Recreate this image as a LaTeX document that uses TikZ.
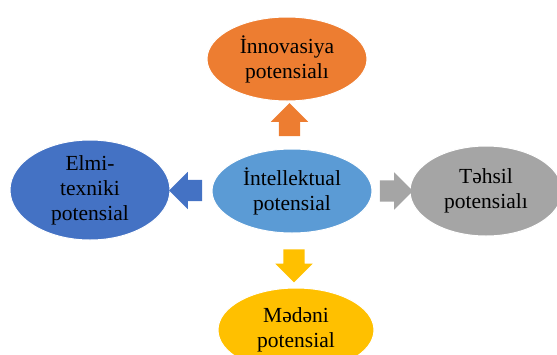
\documentclass[tikz,border=0pt]{standalone}
\usepackage{fontspec}
\setmainfont{Liberation Serif}
\usetikzlibrary{shapes.geometric, shapes.arrows, positioning, calc}

\definecolor{orng}{HTML}{ED7D31}
\definecolor{lblue}{HTML}{5B9BD5}
\definecolor{dblue}{HTML}{4472C4}
\definecolor{gry}{HTML}{A5A5A5}
\definecolor{ylw}{HTML}{FFC000}

\begin{document}
\begin{tikzpicture}[x=1pt, y=-1pt,
    potential/.style={ellipse, draw=white, line width=1pt, align=center,
        minimum width=160pt, minimum height=84pt, inner sep=0pt,
        font=\fontsize{21.5}{25}\selectfont},
    blockarrow/.style={single arrow, draw=none, minimum height=33pt,
        inner xsep=0pt, inner ysep=10.5pt, single arrow head extend=8pt}]
    \useasboundingbox (0,0) rectangle (557,354);
    \node[potential, fill=lblue] (intel) at (292,191) {İntellektual\\potensial};
    \node[potential, fill=orng] (innov) at (287,59) {İnnovasiya\\potensialı};
    \node[potential, fill=dblue, minimum height=100pt] (elmi) at (90,190) {Elmi-\\texniki\\potensial};
    \node[potential, fill=gry, minimum width=152pt, minimum height=90pt] (tehsil) at (486,191) {Təhsil\\potensialı};
    \node[potential, fill=ylw, minimum width=156pt] (medeni) at (296,330) {Mədəni\\potensial};

    \node[blockarrow, fill=orng, rotate=90] (a1) at ($(intel.north)!0.5!(innov.south)$) {};
    \node[blockarrow, fill=dblue, rotate=180] (a2) at ($(intel.west)!0.5!(elmi.east)$) {};
    \node[blockarrow, fill=gry] (a3) at ($(intel.east)!0.5!(tehsil.west)$) {};
    \node[blockarrow, fill=ylw, rotate=-90] (a4) at ($(intel.south)!0.5!(medeni.north)$) {};
\end{tikzpicture}
\end{document}
